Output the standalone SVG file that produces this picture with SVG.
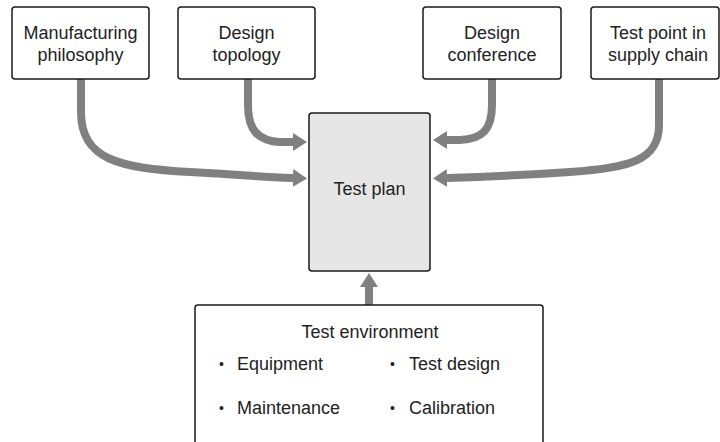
<svg xmlns="http://www.w3.org/2000/svg" width="720" height="442" viewBox="0 0 720 442">
<style>
.box{fill:#fff;stroke:#1a1a1a;stroke-width:1.5}
.plan{fill:#e6e6e6;stroke:#1a1a1a;stroke-width:1.5}
.t{font-family:"Liberation Sans",Arial,sans-serif;font-size:18px;fill:#222;text-anchor:middle}
.l{font-family:"Liberation Sans",Arial,sans-serif;font-size:18px;fill:#222}
.b{font-size:14px}
.c{fill:none;stroke:#808080;stroke-width:8}
</style>
<defs>
<marker id="ah" viewBox="0 0 14 18" refX="0" refY="9" markerWidth="14" markerHeight="18" markerUnits="userSpaceOnUse" orient="auto">
<path d="M0,0 L14,9 L0,18 Z" fill="#808080"/>
</marker>
</defs>
<g id="connectors">
<path class="c" marker-end="url(#ah)" d="M81,79 V112 C81,160 120,168 190,172 S260,177 293,178"/>
<path class="c" marker-end="url(#ah)" d="M248,79 V105 C248,130 258,141 280,142 L293,142"/>
<path class="c" marker-end="url(#ah)" d="M492,79 V105 C492,130 482,139 460,140 L447,140"/>
<path class="c" marker-end="url(#ah)" d="M659,79 V125 C659,160 630,168 570,172 S480,177 447,178"/>
<path class="c" marker-end="url(#ah)" d="M369,305 V287"/>
</g>
<g id="manufacturing">
<rect class="box" x="12" y="7" width="137" height="72" rx="3"/>
<text class="t" x="80.5" y="39">Manufacturing</text>
<text class="t" x="80.5" y="61">philosophy</text>
</g>
<g id="topology">
<rect class="box" x="178" y="7" width="137" height="72" rx="3"/>
<text class="t" x="246.5" y="39">Design</text>
<text class="t" x="246.5" y="61">topology</text>
</g>
<g id="conference">
<rect class="box" x="423" y="7" width="138" height="72" rx="3"/>
<text class="t" x="492" y="39">Design</text>
<text class="t" x="492" y="61">conference</text>
</g>
<g id="testpoint">
<rect class="box" x="591" y="7" width="128" height="72" rx="3"/>
<text class="t" x="658" y="39">Test point in</text>
<text class="t" x="658" y="61">supply chain</text>
</g>
<g id="testplan">
<rect class="plan" x="309" y="113" width="121" height="158" rx="3"/>
<text class="t" x="369.5" y="195">Test plan</text>
</g>
<g id="environment">
<rect class="box" x="195" y="305" width="348" height="160" rx="3"/>
<text class="t" x="370" y="338">Test environment</text>
<text class="l" x="219" y="369"><tspan class="b">•</tspan><tspan x="237" y="370">Equipment</tspan></text>
<text class="l" x="390" y="369"><tspan class="b">•</tspan><tspan x="409" y="370">Test design</tspan></text>
<text class="l" x="219" y="413"><tspan class="b">•</tspan><tspan x="237" y="414">Maintenance</tspan></text>
<text class="l" x="390" y="413"><tspan class="b">•</tspan><tspan x="409" y="414">Calibration</tspan></text>
</g>
</svg>
